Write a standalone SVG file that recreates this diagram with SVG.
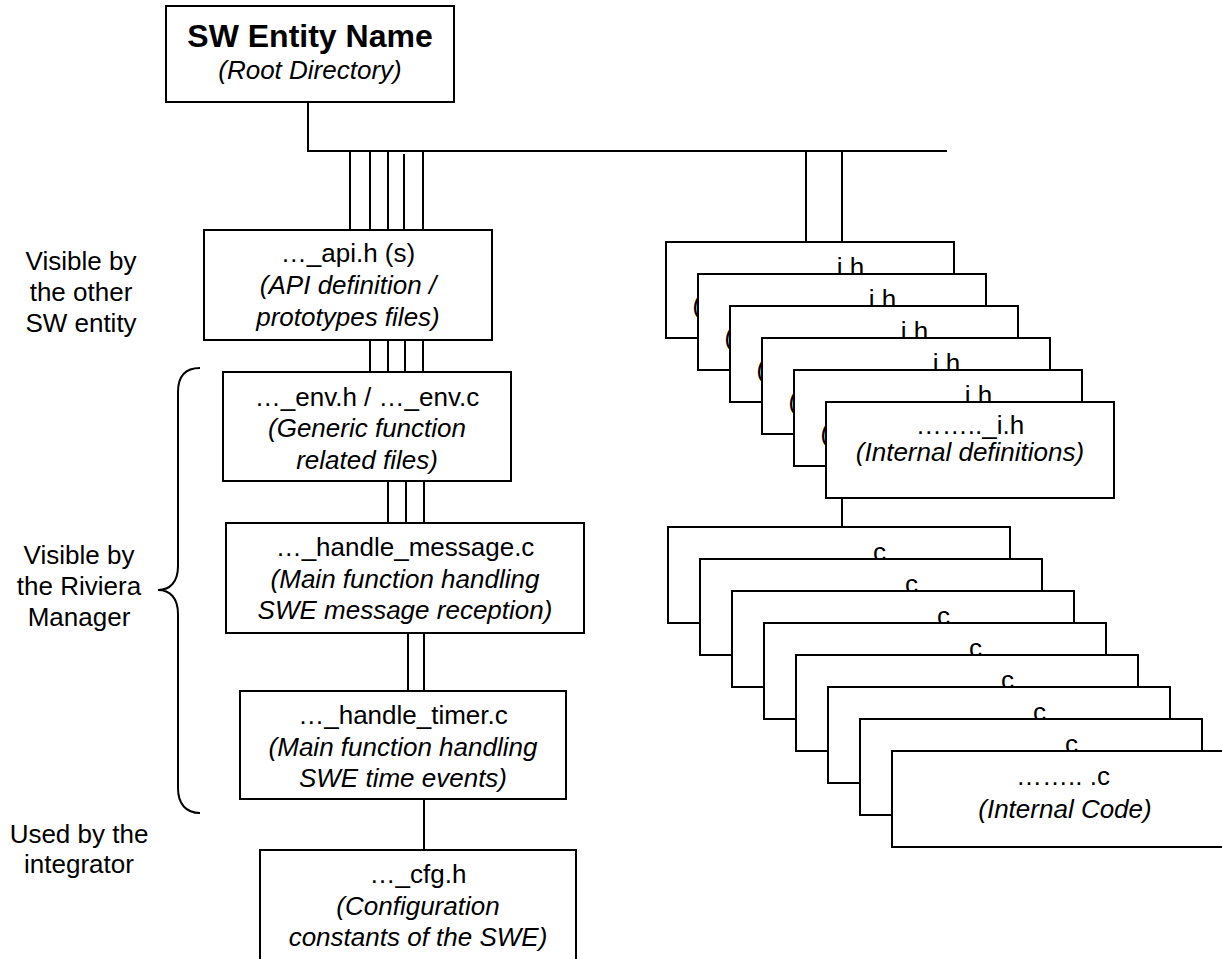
<svg xmlns="http://www.w3.org/2000/svg" width="1222" height="959" viewBox="0 0 1222 959">
  <style>
    .box { fill: #fff; stroke: #000; stroke-width: 2; }
    .ln { stroke: #000; stroke-width: 2; fill: none; }
    text { font-family: "Liberation Sans", Arial, sans-serif; font-size: 26px; text-anchor: middle; fill: #000; }
    .it { font-style: italic; }
    .bd { font-weight: bold; font-size: 32px; }
  </style>
  <rect width="1222" height="959" fill="#fff"/>

  <!-- side labels -->
  <g id="label-other-sw">
    <text x="81" y="270">Visible by</text>
    <text x="81" y="301">the other</text>
    <text x="81" y="332">SW entity</text>
  </g>
  <g id="label-riviera">
    <text x="79" y="564">Visible by</text>
    <text x="79" y="595">the Riviera</text>
    <text x="79" y="626">Manager</text>
    <path class="ln" d="M200,368 C186,368 178,376 178,392 L178,566 C178,582 170,590 158,590 C170,590 178,598 178,614 L178,788 C178,804 186,813 200,813"/>
  </g>
  <g id="label-integrator">
    <text x="79" y="843">Used by the</text>
    <text x="79" y="873">integrator</text>
  </g>

  <!-- connectors -->
  <g id="connectors">
    <line class="ln" x1="308" y1="102" x2="308" y2="151"/>
    <line class="ln" x1="307" y1="151" x2="947" y2="151"/>
    <line class="ln" x1="350" y1="151" x2="350" y2="230"/>
    <line class="ln" x1="370" y1="151" x2="370" y2="230"/>
    <line class="ln" x1="388" y1="151" x2="388" y2="230"/>
    <line class="ln" x1="404" y1="154" x2="404" y2="230"/>
    <line class="ln" x1="423" y1="151" x2="423" y2="230"/>
    <line class="ln" x1="370" y1="340" x2="370" y2="372"/>
    <line class="ln" x1="388" y1="340" x2="388" y2="372"/>
    <line class="ln" x1="405" y1="340" x2="405" y2="372"/>
    <line class="ln" x1="423" y1="340" x2="423" y2="372"/>
    <line class="ln" x1="388" y1="481" x2="388" y2="523"/>
    <line class="ln" x1="406" y1="481" x2="406" y2="523"/>
    <line class="ln" x1="424" y1="481" x2="424" y2="523"/>
    <line class="ln" x1="408" y1="633" x2="408" y2="691"/>
    <line class="ln" x1="424" y1="633" x2="424" y2="691"/>
    <line class="ln" x1="424" y1="799" x2="424" y2="850"/>
    <line class="ln" x1="806" y1="151" x2="806" y2="242"/>
    <line class="ln" x1="842" y1="151" x2="842" y2="242"/>
    <line class="ln" x1="842" y1="498" x2="842" y2="527"/>
  </g>

  <!-- root directory -->
  <g id="root">
    <rect class="box" x="166" y="6" width="288" height="96"/>
    <text class="bd" x="310" y="47">SW Entity Name</text>
    <text class="it" x="310" y="79">(Root Directory)</text>
  </g>

  <g id="api">
    <rect class="box" x="204" y="230" width="288" height="110"/>
    <text x="348" y="262">…_api.h (s)</text>
    <text class="it" x="348" y="294">(API definition /</text>
    <text class="it" x="348" y="326">prototypes files)</text>
  </g>

  <g id="env">
    <rect class="box" x="223" y="372" width="288" height="109"/>
    <text x="367" y="405.5">…_env.h / …_env.c</text>
    <text class="it" x="367" y="437">(Generic function</text>
    <text class="it" x="367" y="468.5">related files)</text>
  </g>

  <g id="handle-message">
    <rect class="box" x="226" y="523" width="358" height="110"/>
    <text x="405" y="556">…_handle_message.c</text>
    <text class="it" x="405" y="587.5">(Main function handling</text>
    <text class="it" x="405" y="619">SWE message reception)</text>
  </g>

  <g id="handle-timer">
    <rect class="box" x="240" y="691" width="326" height="108"/>
    <text x="403" y="724">…_handle_timer.c</text>
    <text class="it" x="403" y="755.5">(Main function handling</text>
    <text class="it" x="403" y="787">SWE time events)</text>
  </g>

  <g id="cfg">
    <rect class="box" x="260" y="850" width="316" height="112"/>
    <text x="418" y="883">…_cfg.h</text>
    <text class="it" x="418" y="914.5">(Configuration</text>
    <text class="it" x="418" y="946">constants of the SWE)</text>
  </g>

  <!-- stacked internal header files, back to front -->
  <g id="internal-headers">
    <g id="ih-1">
      <rect class="box" x="666" y="242" width="288" height="96"/>
      <text x="810" y="276">…….._i.h</text>
      <text class="it" x="807" y="312">(Internal definitions)</text>
    </g>
    <g id="ih-2">
      <rect class="box" x="698" y="274" width="288" height="96"/>
      <text x="842" y="308">…….._i.h</text>
      <text class="it" x="839" y="344">(Internal definitions)</text>
    </g>
    <g id="ih-3">
      <rect class="box" x="730" y="306" width="288" height="96"/>
      <text x="874" y="340">…….._i.h</text>
      <text class="it" x="871" y="376">(Internal definitions)</text>
    </g>
    <g id="ih-4">
      <rect class="box" x="762" y="338" width="288" height="96"/>
      <text x="906" y="372">…….._i.h</text>
      <text class="it" x="903" y="408">(Internal definitions)</text>
    </g>
    <g id="ih-5">
      <rect class="box" x="794" y="370" width="288" height="96"/>
      <text x="938" y="404">…….._i.h</text>
      <text class="it" x="935" y="440">(Internal definitions)</text>
    </g>
    <g id="ih-6">
      <rect class="box" x="826" y="402" width="288" height="96"/>
      <text x="970" y="434">…….._i.h</text>
      <text class="it" x="970" y="461">(Internal definitions)</text>
    </g>
  </g>

  <!-- stacked internal code files, back to front -->
  <g id="internal-code">
    <g id="c-1">
      <rect class="box" x="668" y="527" width="342" height="96"/>
      <text x="839" y="561">…….. .c</text>
      <text class="it" x="841" y="594">(Internal Code)</text>
    </g>
    <g id="c-2">
      <rect class="box" x="700" y="559" width="342" height="96"/>
      <text x="871" y="593">…….. .c</text>
      <text class="it" x="873" y="626">(Internal Code)</text>
    </g>
    <g id="c-3">
      <rect class="box" x="732" y="591" width="342" height="96"/>
      <text x="903" y="625">…….. .c</text>
      <text class="it" x="905" y="658">(Internal Code)</text>
    </g>
    <g id="c-4">
      <rect class="box" x="764" y="623" width="342" height="96"/>
      <text x="935" y="657">…….. .c</text>
      <text class="it" x="937" y="690">(Internal Code)</text>
    </g>
    <g id="c-5">
      <rect class="box" x="796" y="655" width="342" height="96"/>
      <text x="967" y="689">…….. .c</text>
      <text class="it" x="969" y="722">(Internal Code)</text>
    </g>
    <g id="c-6">
      <rect class="box" x="828" y="687" width="342" height="96"/>
      <text x="999" y="721">…….. .c</text>
      <text class="it" x="1001" y="754">(Internal Code)</text>
    </g>
    <g id="c-7">
      <rect class="box" x="860" y="719" width="342" height="96"/>
      <text x="1031" y="753">…….. .c</text>
      <text class="it" x="1033" y="786">(Internal Code)</text>
    </g>
    <g id="c-8">
      <rect class="box" x="892" y="751" width="342" height="96"/>
      <text x="1063" y="785">…….. .c</text>
      <text class="it" x="1065" y="818">(Internal Code)</text>
    </g>
  </g>
</svg>
